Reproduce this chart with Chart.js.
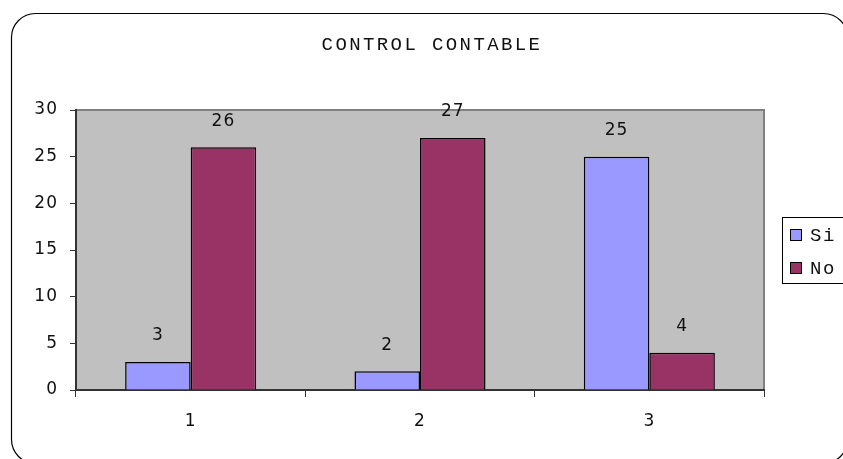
<!DOCTYPE html>
<html>
<head>
<meta charset="utf-8">
<script src="https://cdn.jsdelivr.net/npm/chart.js@4/dist/chart.umd.min.js"></script>
<style>
  html, body { margin: 0; padding: 0; background: #ffffff; }
  #wrap { width: 843px; height: 459px; position: relative; }
</style>
</head>
<body>
<div id="wrap"><canvas id="c" width="843" height="459"></canvas></div>
<script>
// Chart data
const chartTitle = 'CONTROL CONTABLE';
const categories = ['1', '2', '3'];
const seriesNames = ['Si', 'No'];
const siValues = [3, 2, 25];
const noValues = [26, 27, 4];
const yTicks = [0, 5, 10, 15, 20, 25, 30];

const SI_COLOR = '#9999FF';
const NO_COLOR = '#993366';
const PLOT_BG = '#C0C0C0';
const TEXT_COLOR = '#111111';
const NUM_FONT = '"DejaVu Sans", sans-serif';
const MONO_FONT = '"Liberation Mono", "DejaVu Sans Mono", monospace';

// Frame, plot background and plot border
const framePlugin = {
  id: 'frame',
  beforeLayout(chart) { chart.ctx.letterSpacing = '1px'; },
  beforeDraw(chart) {
    const ctx = chart.ctx;
    const a = chart.chartArea;
    ctx.save();
    ctx.fillStyle = '#ffffff';
    ctx.fillRect(0, 0, chart.width, chart.height);
    // rounded outer border
    ctx.beginPath();
    ctx.roundRect(11.5, 13.5, 836, 450, 24);
    ctx.strokeStyle = '#000000';
    ctx.lineWidth = 1.2;
    ctx.stroke();
    // plot background
    ctx.fillStyle = PLOT_BG;
    ctx.fillRect(a.left, a.top, a.right - a.left, a.bottom - a.top);
    ctx.strokeStyle = '#808080';
    ctx.lineWidth = 2;
    ctx.beginPath();
    ctx.moveTo(a.left, a.top);
    ctx.lineTo(a.right, a.top);
    ctx.lineTo(a.right, a.bottom);
    ctx.stroke();
    ctx.restore();
    ctx.letterSpacing = '1px';
  },
  afterDraw(chart) {
    const ctx = chart.ctx;
    ctx.save();
    // title
    ctx.letterSpacing = '2.4px';
    ctx.font = '19px ' + MONO_FONT;
    ctx.fillStyle = TEXT_COLOR;
    ctx.textAlign = 'center';
    ctx.textBaseline = 'middle';
    ctx.fillText(chartTitle, 432, 45);
    // legend
    ctx.letterSpacing = '1.5px';
    ctx.fillStyle = '#ffffff';
    ctx.fillRect(782.5, 217.5, 70, 66);
    ctx.strokeStyle = '#000000';
    ctx.lineWidth = 1;
    ctx.strokeRect(782.5, 217.5, 70, 66);
    ctx.textAlign = 'left';
    chart.data.datasets.forEach((ds, i) => {
      const cy = 235 + i * 33;
      ctx.fillStyle = ds.backgroundColor;
      ctx.fillRect(790.5, cy - 5.5, 11, 11);
      ctx.strokeStyle = '#000000';
      ctx.strokeRect(790.5, cy - 5.5, 11, 11);
      ctx.fillStyle = TEXT_COLOR;
      ctx.fillText(ds.label, 810, cy + 1);
    });
    ctx.restore();
  }
};

// Value labels above each bar
const valueLabels = {
  id: 'valueLabels',
  afterDatasetsDraw(chart) {
    const ctx = chart.ctx;
    ctx.save();
    ctx.letterSpacing = '1px';
    ctx.font = '17px ' + NUM_FONT;
    ctx.fillStyle = TEXT_COLOR;
    ctx.textAlign = 'center';
    ctx.textBaseline = 'middle';
    chart.data.datasets.forEach((ds, i) => {
      chart.getDatasetMeta(i).data.forEach((bar, j) => {
        ctx.fillText(String(ds.data[j]), bar.x, bar.y - 26);
      });
    });
    ctx.restore();
  }
};

new Chart(document.getElementById('c'), {
  type: 'bar',
  data: {
    labels: categories,
    datasets: [
      { label: seriesNames[0], data: siValues, backgroundColor: SI_COLOR, borderColor: '#000000', borderWidth: 1.5 },
      { label: seriesNames[1], data: noValues, backgroundColor: NO_COLOR, borderColor: '#000000', borderWidth: 1.5 }
    ]
  },
  options: {
    responsive: false,
    animation: false,
    devicePixelRatio: 1,
    datasets: { bar: { categoryPercentage: 2 / 3.5, barPercentage: 1.0 } },
    layout: { padding: { left: 0, top: 110, right: 79, bottom: 0 } },
    plugins: {
      legend: { display: false },
      title: { display: false },
      tooltip: { enabled: false }
    },
    scales: {
      x: {
        grid: { offset: true, drawOnChartArea: false, tickLength: 7, color: '#333333', lineWidth: 1 },
        border: { color: '#333333', width: 2 },
        ticks: { color: TEXT_COLOR, font: { family: NUM_FONT, size: 17 }, padding: 14, maxRotation: 0 },
        afterFit(s) { s.height = 69; }
      },
      y: {
        min: 0,
        max: 30,
        afterBuildTicks(s) { s.ticks = yTicks.map(v => ({ value: v })); },
        grid: { drawOnChartArea: false, tickLength: 6, color: '#333333', lineWidth: 1 },
        border: { color: '#333333', width: 2 },
        ticks: { color: TEXT_COLOR, font: { family: NUM_FONT, size: 17 }, padding: 12 },
        afterFit(s) { s.width = 76; }
      }
    }
  },
  plugins: [framePlugin, valueLabels]
});
</script>
</body>
</html>
